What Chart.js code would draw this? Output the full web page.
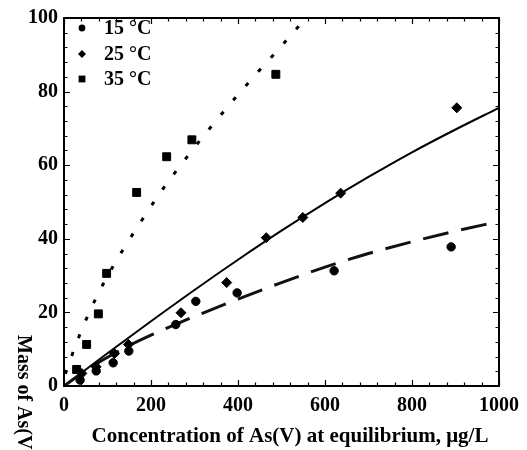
<!DOCTYPE html>
<html>
<head>
<meta charset="utf-8">
<script src="https://cdn.jsdelivr.net/npm/chart.js@4.4.1/dist/chart.umd.min.js"></script>
<style>html,body{margin:0;padding:0;background:#fff}</style>
</head>
<body>
<canvas id="isoChart" width="527" height="450"></canvas>
<script>
// Adsorption isotherms of As(V) at three temperatures, points + fitted curves.

var t15x = [37, 74, 113, 149, 257, 303, 398, 621, 890];
var t15y = [1.6, 4.1, 6.3, 9.5, 16.7, 23.0, 25.3, 31.3, 37.8];

var t25x = [41, 74, 116, 148, 269, 374, 465, 549, 636, 903];
var t25y = [3.4, 5.2, 8.8, 11.3, 19.9, 28.1, 40.3, 45.8, 52.4, 75.6];

var t35x = [29, 52, 79, 98, 167, 236, 294, 487];
var t35y = [4.5, 11.3, 19.6, 30.6, 52.6, 62.3, 66.9, 84.7];

// fitted curves
var fit15x = [0, 50, 100, 150, 200, 250, 300, 400, 500, 600, 700, 800, 900, 1000];
var fit15y = [0, 4.2, 7.8, 11.0, 13.8, 16.4, 18.9, 23.6, 28.1, 32.3, 36.0, 39.2, 42.1, 44.7];

var fit25x = [0, 100, 200, 300, 400, 500, 600, 700, 800, 900, 1000];
var fit25y = [0, 8.9, 17.6, 26.1, 34.3, 42.2, 49.7, 56.8, 63.5, 69.7, 75.6];

var fit35x = [3, 31, 60, 94, 134, 177, 223, 274, 328, 383, 441, 500, 556];
var fit35y = [3.3, 12.4, 20.5, 28.6, 36.7, 44.7, 52.8, 60.9, 69.0, 76.8, 84.7, 92.4, 100];

var xTicks = [0, 200, 400, 600, 800, 1000];
var yTicks = [0, 20, 40, 60, 80, 100];

var legendNames = ['15 \u00b0C', '25 \u00b0C', '35 \u00b0C'];

var SERIF = '"Liberation Serif", "Times New Roman", serif';

function pts(xs, ys) {
  return xs.map(function(x, i) { return { x: x, y: ys[i] }; });
}

// frame, inward ticks (major + minor) on all four sides, titles and legend
var decor = {
  id: 'decor',
  afterDraw: function(chart) {
    var ctx = chart.ctx, a = chart.chartArea;
    var xs = chart.scales.x, ys = chart.scales.y;
    ctx.save();
    ctx.strokeStyle = '#000';
    ctx.lineWidth = 2;
    ctx.strokeRect(a.left, a.top, a.right - a.left, a.bottom - a.top);

    ctx.lineWidth = 1.2;
    ctx.beginPath();
    for (var v = 0; v <= 1000; v += 40) {
      var px = Math.round(xs.getPixelForValue(v)) + 0.5;
      var len = (v % 200 === 0) ? 6 : 3.5;
      ctx.moveTo(px, a.bottom); ctx.lineTo(px, a.bottom - len);
      ctx.moveTo(px, a.top); ctx.lineTo(px, a.top + len);
    }
    for (var w = 0; w <= 100; w += 4) {
      var py = Math.round(ys.getPixelForValue(w)) + 0.5;
      var l2 = (w % 20 === 0) ? 6 : 3.5;
      ctx.moveTo(a.left, py); ctx.lineTo(a.left + l2, py);
      ctx.moveTo(a.right, py); ctx.lineTo(a.right - l2, py);
    }
    ctx.stroke();

    // axis titles
    ctx.fillStyle = '#000';
    ctx.textBaseline = 'middle';
    ctx.textAlign = 'center';
    ctx.font = 'bold 21px ' + SERIF;
    ctx.fillText('Concentration of As(V) at equilibrium, \u03bcg/L', 290, 437);

    ctx.save();
    ctx.font = 'bold 20px ' + SERIF;
    ctx.translate(23, 335);
    ctx.rotate(Math.PI / 2);
    ctx.textAlign = 'left';
    ctx.fillText('Mass of As(V) adsorbed, \u03bcg/g', 0, 0);
    ctx.restore();

    // legend
    var rows = [28, 54, 79];
    var mx = 82;
    ctx.font = 'bold 20px ' + SERIF;
    ctx.textAlign = 'left';
    for (var i = 0; i < 3; i++) {
      var y = rows[i];
      ctx.beginPath();
      if (i === 0) {
        ctx.arc(mx, y, 3.4, 0, Math.PI * 2);
      } else if (i === 1) {
        ctx.moveTo(mx, y - 4); ctx.lineTo(mx + 4, y);
        ctx.lineTo(mx, y + 4); ctx.lineTo(mx - 4, y);
        ctx.closePath();
      } else {
        ctx.rect(mx - 3.4, y - 3.4, 6.8, 6.8);
      }
      ctx.fill();
      ctx.fillText(legendNames[i], 104, y + 1);
    }
    ctx.restore();
  }
};

new Chart(document.getElementById('isoChart'), {
  type: 'scatter',
  data: {
    datasets: [{
      label: legendNames[0],
      data: pts(t15x, t15y),
      pointStyle: 'circle',
      pointRadius: 4.2,
      pointBorderWidth: 1,
      backgroundColor: '#000',
      borderColor: '#000',
      order: 0
    }, {
      label: legendNames[1],
      data: pts(t25x, t25y),
      pointStyle: 'rectRot',
      pointRadius: 5,
      pointBorderWidth: 1,
      backgroundColor: '#000',
      borderColor: '#000',
      order: 0
    }, {
      label: legendNames[2],
      data: pts(t35x, t35y),
      pointStyle: 'rect',
      pointRadius: 5.6,
      pointBorderWidth: 1,
      backgroundColor: '#000',
      borderColor: '#000',
      order: 0
    }, {
      label: 'fit 15',
      type: 'line',
      data: pts(fit15x, fit15y),
      borderColor: '#111',
      borderWidth: 3,
      borderDash: [26, 13],
      borderCapStyle: 'butt',
      pointRadius: 0,
      cubicInterpolationMode: 'monotone',
      fill: false,
      order: 1
    }, {
      label: 'fit 25',
      type: 'line',
      data: pts(fit25x, fit25y),
      borderColor: '#000',
      borderWidth: 2,
      pointRadius: 0,
      cubicInterpolationMode: 'monotone',
      fill: false,
      order: 1
    }, {
      label: 'fit 35',
      type: 'line',
      data: pts(fit35x, fit35y),
      borderColor: '#000',
      borderWidth: 3,
      borderDash: [4, 15],
      borderCapStyle: 'butt',
      pointRadius: 0,
      cubicInterpolationMode: 'monotone',
      fill: false,
      order: 1
    }]
  },
  options: {
    responsive: false,
    animation: false,
    layout: { padding: { top: 15, right: 28, left: 0, bottom: 0 } },
    plugins: {
      legend: { display: false },
      tooltip: { enabled: false }
    },
    scales: {
      x: {
        type: 'linear',
        min: 0, max: 1000,
        afterFit: function(s) { s.height = 64; },
        afterBuildTicks: function(s) { s.ticks = xTicks.map(function(v) { return { value: v }; }); },
        grid: { display: false, drawTicks: false },
        border: { display: false },
        ticks: {
          color: '#000',
          padding: 8,
          maxRotation: 0,
          callback: function(v) { return String(v); },
          font: { family: SERIF, size: 20, weight: 'bold' }
        }
      },
      y: {
        type: 'linear',
        min: 0, max: 100,
        afterFit: function(s) { s.width = 64; },
        afterBuildTicks: function(s) { s.ticks = yTicks.map(function(v) { return { value: v }; }); },
        grid: { display: false, drawTicks: false },
        border: { display: false },
        ticks: {
          color: '#000',
          padding: 6,
          callback: function(v) { return String(v); },
          font: { family: SERIF, size: 20, weight: 'bold' }
        }
      }
    }
  },
  plugins: [decor]
});
</script>
</body>
</html>
